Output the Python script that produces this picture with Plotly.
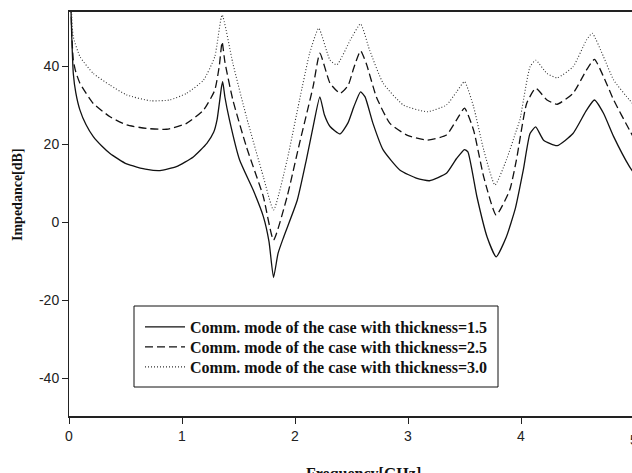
import plotly.graph_objects as go

# Frequency [GHz] and impedance [dB]
freq_15 = [0.01, 0.025, 0.038, 0.06, 0.097, 0.15, 0.215, 0.29, 0.363, 0.51, 0.69, 0.805, 0.95, 1.10,
           1.22, 1.28, 1.31, 1.35, 1.36, 1.38, 1.42, 1.51, 1.63, 1.72, 1.77, 1.81, 1.85, 1.90, 2.02,
           2.10, 2.16, 2.22, 2.26, 2.31, 2.40, 2.47, 2.52, 2.58, 2.62, 2.69, 2.78, 2.93, 3.08, 3.19,
           3.34, 3.43, 3.50, 3.53, 3.61, 3.70, 3.78, 3.87, 3.95, 4.02, 4.08, 4.13, 4.20, 4.32, 4.46,
           4.58, 4.65, 4.73, 4.82, 4.96, 5.0]
imp_15 = [62, 47, 38.1, 33.2, 28.7, 25, 21.9, 19.5, 17.6, 14.9, 13.5, 13.2, 14.2, 16.7,
          20.2, 23, 26.2, 34.7, 36, 32, 26.2, 15.9, 8.2, 1.4, -5, -14.2, -8, -3.8, 5.6,
          15.9, 24.4, 32.1, 27.5, 24.5, 22.6, 25.5, 29.5, 33.4, 32.1, 25.3, 18.5, 13.3, 11.2, 10.6,
          12.5, 16.3, 18.6, 18, 6.5, -3.8, -8.9, -3.8, 3.5, 13.3, 22.7, 24.4, 21, 19.6, 22.7,
          28.7, 31.3, 27.9, 21.9, 14.2, 12.5]

freq_25 = [0.01, 0.025, 0.038, 0.06, 0.097, 0.215, 0.363, 0.51, 0.69, 0.865, 1.04, 1.19, 1.29, 1.33,
           1.355, 1.38, 1.45, 1.57, 1.72, 1.81, 1.93, 2.04, 2.16, 2.22, 2.31, 2.40, 2.47, 2.52,
           2.58, 2.63, 2.72, 2.84, 2.99, 3.17, 3.34, 3.43, 3.50, 3.58, 3.67, 3.78, 3.90, 3.96,
           4.05, 4.13, 4.23, 4.32, 4.46, 4.58, 4.65, 4.73, 4.82, 4.96, 5.0]
imp_25 = [65, 48, 41.5, 38.5, 35.6, 30.4, 27, 24.9, 24.0, 23.8, 25.3, 28.7, 33.8, 40,
          46.2, 41, 31.3, 19.3, 6.5, -4.6, 6.5, 20.2, 34.7, 43.3, 35.6, 33.0, 35, 39.5,
          43.9, 40.7, 32.1, 25.3, 22.3, 21, 22.3, 26.2, 29.2, 23.6, 11.6, 1.8, 8.2, 16,
          30.4, 34.3, 31.3, 30.2, 33, 39, 41.7, 37.3, 31.3, 23.6, 21.5]

freq_30 = [0.01, 0.025, 0.038, 0.097, 0.215, 0.363, 0.51, 0.72, 0.89, 1.04, 1.19, 1.29, 1.355,
           1.45, 1.57, 1.72, 1.81, 1.93, 2.04, 2.13, 2.21, 2.31, 2.37, 2.49, 2.58, 2.66, 2.78,
           2.96, 3.17, 3.34, 3.43, 3.50, 3.58, 3.67, 3.77, 3.87, 3.96, 3.99, 4.08, 4.13, 4.23,
           4.32, 4.46, 4.58, 4.63, 4.73, 4.82, 4.96, 5.0]
imp_30 = [68, 52, 47.5, 42.4, 38.1, 35.1, 32.6, 31.1, 31.3, 33, 36.4, 42.4, 53.1,
          40.7, 27, 11.6, 3.1, 15.9, 31.3, 43.3, 49.7, 41.5, 40.3, 46.7, 50.8, 44.1, 35.6,
          30, 28.3, 30, 33.4, 36, 29.6, 18.5, 9.5, 15.9, 23.6, 26.2, 39.8, 41.5, 38.1,
          37, 39.8, 46.7, 48.4, 42.4, 36.4, 31.3, 30]

series_names = ["Comm. mode of the case with thickness=1.5",
                "Comm. mode of the case with thickness=2.5",
                "Comm. mode of the case with thickness=3.0"]
x_ticks = [0, 1, 2, 3, 4]
y_ticks = [-40, -20, 0, 20, 40]

W, H = 632, 473
ML, MR, MT, MB = 69, 0, 12, 57
pw = W - ML - MR
ph = H - MT - MB
px_per_ghz = 113.0


def px2paper_x(px):
    return (px - ML) / pw


def py2paper_y(py):
    return (H - MB - py) / ph


fig = go.Figure()
fig.add_trace(go.Scatter(x=freq_15, y=imp_15, mode="lines", name=series_names[0], legend="legend",
                         line=dict(color="#111111", width=1.3, dash="solid", shape="spline", smoothing=0.5)))
fig.add_trace(go.Scatter(x=freq_25, y=imp_25, mode="lines", name=series_names[1], legend="legend2",
                         line=dict(color="#111111", width=1.3, dash="8px,4px", shape="spline", smoothing=0.5)))
fig.add_trace(go.Scatter(x=freq_30, y=imp_30, mode="lines", name=series_names[2], legend="legend3",
                         line=dict(color="#333333", width=1.1, dash="1px,2px", shape="spline", smoothing=0.5)))

leg_font = dict(family="Liberation Serif", size=16, color="#111111", weight="bold")


def leg(row_y):
    return dict(x=px2paper_x(140), y=py2paper_y(row_y), xanchor="left", yanchor="middle",
                bgcolor="rgba(0,0,0,0)", borderwidth=0, font=leg_font, itemwidth=40)


fig.update_layout(
    width=W, height=H,
    margin=dict(l=ML, r=MR, t=MT, b=MB, pad=0),
    paper_bgcolor="white", plot_bgcolor="white",
    showlegend=True,
    legend=leg(327), legend2=leg(347), legend3=leg(367),
    xaxis=dict(range=[0, pw / px_per_ghz], tickvals=x_ticks, ticktext=[str(v) for v in x_ticks],
               showgrid=False, zeroline=False, showline=True, linecolor="#222222", linewidth=1.5,
               mirror=True, ticks="outside", ticklen=6, tickcolor="#222222",
               tickfont=dict(family="Liberation Sans", size=14, color="#222222")),
    yaxis=dict(range=[-49.7, 53.85], tickvals=y_ticks, ticktext=[str(v) for v in y_ticks],
               showgrid=False, zeroline=False, showline=True, linecolor="#222222", linewidth=1,
               ticks="outside", ticklen=6, tickcolor="#222222",
               tickfont=dict(family="Liberation Sans", size=14, color="#222222")),
    shapes=[dict(type="rect", xref="paper", yref="paper",
                 x0=px2paper_x(134), x1=px2paper_x(498), y0=py2paper_y(387), y1=py2paper_y(306),
                 line=dict(color="#111111", width=1), fillcolor="rgba(0,0,0,0)")],
    annotations=[
        dict(text="<b>Impedance[dB]</b>", xref="paper", yref="paper", x=px2paper_x(18), y=py2paper_y(195),
             textangle=-90, showarrow=False, xanchor="center", yanchor="middle",
             font=dict(family="Liberation Serif", size=14, color="#111111")),
        dict(text="<b>Frequency[GHz]</b>", xref="paper", yref="paper", x=px2paper_x(363), y=py2paper_y(463),
             showarrow=False, xanchor="center", yanchor="top",
             font=dict(family="Liberation Serif", size=16, color="#111111")),
        dict(text="5", xref="paper", yref="paper", x=px2paper_x(69 + 5 * px_per_ghz), y=py2paper_y(430),
             showarrow=False, xanchor="center", yanchor="top",
             font=dict(family="Liberation Sans", size=14, color="#222222")),
    ],
)

fig.write_html("out.html")
